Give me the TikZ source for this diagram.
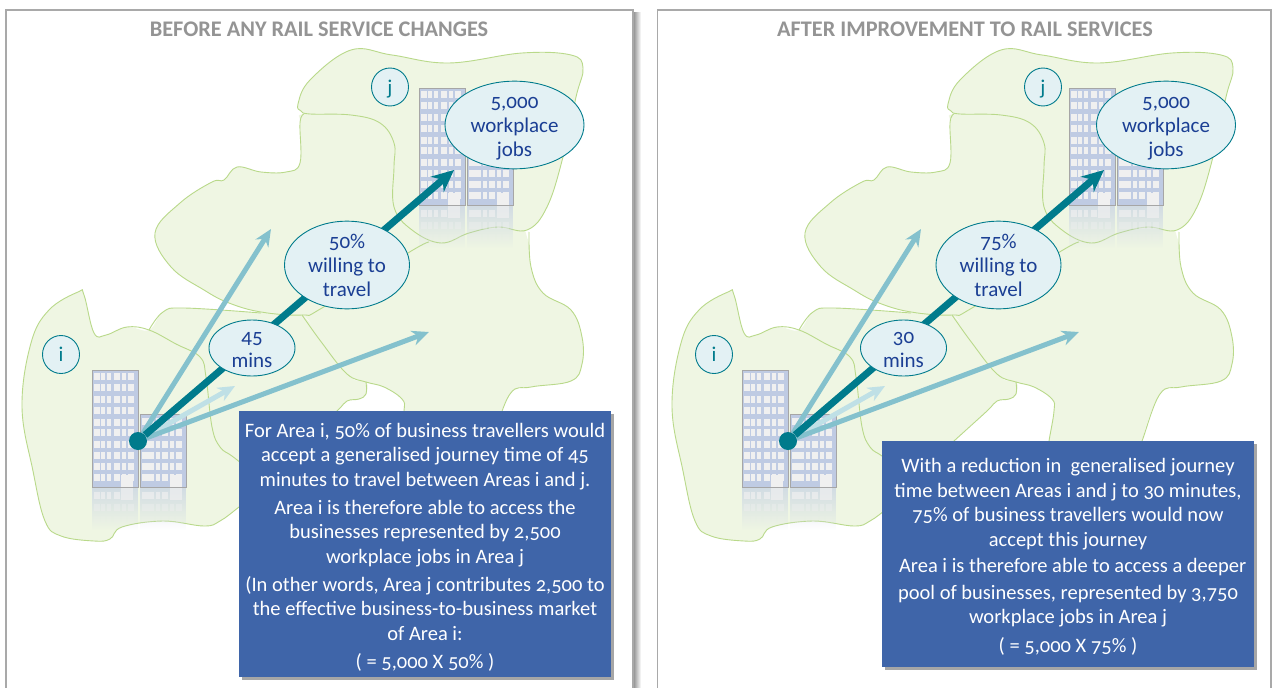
\documentclass[tikz,border=0pt]{standalone}
\usepackage{fontspec}
\usepackage{xcolor}
\setmainfont[Numbers=OldStyle]{Carlito}
\usetikzlibrary{calc,shadows,fadings,shapes.geometric,arrows.meta}

\definecolor{areagreen}{HTML}{EFF6E3}
\definecolor{arealine}{HTML}{B9D98A}
\definecolor{railteal}{HTML}{007B8C}
\definecolor{railmid}{HTML}{84C1CD}
\definecolor{raillight}{HTML}{BFE0E6}
\definecolor{bubblefill}{HTML}{E3F1F4}
\definecolor{bubbletext}{HTML}{1B3F94}
\definecolor{boxblue}{HTML}{3F65A9}
\definecolor{blockblue}{HTML}{BFCBE3}
\definecolor{blockline}{HTML}{A6A6A6}
\definecolor{paneline}{HTML}{A9A9A9}

\tikzset{
  x=1pt,y=-1pt,
  paneframe/.style={draw=paneline,line width=1.4pt,fill=white},
  areaedge/.style={draw=arealine,line width=.9pt},
  bubble/.style={ellipse,draw=railteal,line width=.9pt,fill=bubblefill,inner sep=-5pt,
    text=bubbletext,align=center,font=\fontsize{21}{24}\selectfont},
  areatag/.style={bubble,text=railteal,minimum width=37pt,minimum height=38pt},
  notebox/.style={fill=boxblue,text=white,align=center,inner sep=0pt,
    font=\fontsize{20.5}{24.5}\selectfont,
    drop shadow={shadow xshift=3pt,shadow yshift=-3pt,fill=black,opacity=.35}},
  paneltitle/.style={text=black!42,font=\fontsize{22.3}{26}\selectfont\bfseries},
  window/.style={fill=white!94!black},
  railarrow/.style={-{Stealth[length=17pt,width=15pt]}},
  railmain/.style={-{Stealth[length=22pt,width=20pt]}},
}

\newcommand{\topstrut}{\rule{0pt}{19pt}}
\newcommand{\lowstrut}{\rule[-5pt]{0pt}{5pt}}
\newcommand{\blockwindows}[2]{%
\foreach \wy in {#2} {
  \foreach \wx/\ww in {#1} {
    \fill[window] (\wx,\wy) rectangle ++(\ww,7);
  }
}}
% two office blocks standing on the line y=0, left edge at x=0
\newcommand{\officeblocks}{%
\fill[blockblue,draw=blockline,line width=1pt] (0,-117) rectangle (46,0);
\fill[blockblue,draw=blockline,line width=1pt] (48,-73) rectangle (94,0);
\blockwindows{2/6,9/4,15/4,22/6,30/4,36/6}{-114,-103,-91,-80,-68,-58,-46,-35,-24,-13}
\blockwindows{50/12,64/4,70/6,78/4,84/6}{-69,-58,-46,-35,-24,-13}
\fill[window] (29,-12) rectangle (41,0);
\fill[window] (78,-12) rectangle (90,0);
\fill[blockblue,path fading=south,fill opacity=.6] (0,1) rectangle (46,43);
\fill[blockblue,path fading=south,fill opacity=.6] (48,1) rectangle (94,43);
\begin{scope}[opacity=.7]
\blockwindows{2/6,9/4,15/4,22/6,50/12,64/4,70/6}{5}
\fill[window] (29,1) rectangle (41,13);
\fill[window] (78,1) rectangle (90,13);
\end{scope}
\begin{scope}[opacity=.4]
\blockwindows{2/6,9/4,15/4,22/6,30/4,36/6,50/12,64/4,70/6,78/4,84/6}{17}
\end{scope}
\begin{scope}[opacity=.15]
\blockwindows{2/6,9/4,15/4,22/6,30/4,36/6,50/12,64/4,70/6,78/4,84/6}{29}
\end{scope}
}

\begin{document}
\begin{tikzpicture}
\useasboundingbox (0,0) rectangle (1272,688);
\fill[white] (0,0) rectangle (1272,688);
\shade[left color=black!45,right color=white] (633,12) rectangle (641,688);
\draw[paneframe] (6,700) -- (6,10) -- (633,10) -- (633,700);
\draw[paneframe] (657.5,700) -- (657.5,10) -- (1271,10) -- (1271,700);
\node[paneltitle] (titlebefore) at (319,29) {BEFORE ANY RAIL SERVICE CHANGES};
\node[paneltitle] (titleafter) at (965,29) {AFTER IMPROVEMENT TO RAIL SERVICES};

\foreach \pn/\dx/\nudge/\share/\mins in {a/0/0/50/45,b/650/1.5/75/30} {
\begin{scope}[xshift=\dx pt]
% land
\fill[areagreen] plot[smooth cycle,tension=.65] coordinates {(310,114)(301,111)(298,104)(310,80)(351,50)(392,55)(449,63)(522,53)(571,55)(583,68)(576,97)(563,157)(547,207)(527,230)(498,227)(469,233)(441,243)(412,230)(394,207)(394,143)(380,123)(351,115)};
\fill[areagreen] plot[smooth cycle,tension=.65] coordinates {(304,114)(300,123)(300,163)(286,172)(261,172)(237,167)(224,180)(212,182)(180,203)(155,233)(171,267)(204,290)(229,303)(261,312)(302,315)(322,343)(347,374)(366,382)(384,387)(402,399)(404,411)(399,441)(399,470)(492,470)(492,441)(510,394)(531,387)(571,381)(582,364)(582,337)(571,310)(543,293)(531,267)(528,240)(510,215)(441,215)(405,190)(405,140)(385,118)(351,113)};
\fill[areagreen] plot[smooth cycle,tension=.65] coordinates {(31,343)(49,310)(78,292)(84,295)(94,333)(106,335)(127,327)(149,330)(163,312)(184,308)(261,313)(302,315)(347,374)(366,382)(366,394)(359,399)(347,401)(337,411)(304,441)(260,490)(239,507)(220,521)(204,526)(163,521)(122,527)(110,539)(94,541)(61,536)(45,521)(33,471)(22,407)};
\draw[areaedge] plot[smooth cycle,tension=.65] coordinates {(310,114)(301,111)(298,104)(310,80)(351,50)(392,55)(449,63)(522,53)(571,55)(583,68)(576,97)(563,157)(547,207)(527,230)(498,227)(469,233)(441,243)(412,230)(394,207)(394,167)(394,143)(380,123)(351,115)};
\draw[areaedge] plot[smooth,tension=.65] coordinates {(304,114)(300,123)(300,163)(286,172)(261,172)(237,167)(224,180)(212,182)(180,203)(155,233)(171,267)(204,290)(229,303)(261,312)(302,315)(322,308)(408,253)(429,242)};
\draw[areaedge] plot[smooth,tension=.65] coordinates {(529,232)(531,267)(543,293)(571,310)(582,337)(582,364)(571,381)(531,387)(510,394)(492,441)(488,450)};
\draw[areaedge] plot[smooth,tension=.65] coordinates {(302,315)(322,343)(347,374)(366,382)(384,387)(402,399)(404,411)(399,441)(398,450)};
\draw[areaedge] plot[smooth,tension=.65] coordinates {(366,382)(366,394)(359,399)(347,401)(337,411)(304,441)(295,450)};
\draw[areaedge] plot[smooth,tension=.65] coordinates {(149,330)(163,312)(184,308)(261,313)};
\draw[areaedge] plot[smooth,tension=.65] coordinates {(260,490)(239,507)(220,521)(204,526)(163,521)(122,527)(110,539)(94,541)(61,536)(45,521)(33,471)(22,407)(31,343)(49,310)(78,292)(84,295)(94,333)(106,335)(127,327)(149,330)(176,344)(200,357)(206,377)(212,427)(220,447)(232,456)(250,470)};
% buildings
\begin{scope}[shift={(92,487)}]\officeblocks\end{scope}
\begin{scope}[shift={(419,205)}]\officeblocks\end{scope}
% arrows
\node[circle,fill=railteal,minimum size=18pt,inner sep=0pt] (\pn origin) at (138,441) {};
\coordinate (\pn north) at (271,229);
\coordinate (\pn east) at (429,332);
\coordinate (\pn near) at (235,386);
\coordinate (\pn jobs) at (454,170);
\draw[railarrow,raillight,line width=5pt] (\pn origin) -- (\pn near);
\draw[railarrow,railmid,line width=5pt] (\pn origin) -- (\pn north);
\draw[railarrow,railmid,line width=5pt] (\pn origin) -- (\pn east);
\draw[railmain,railteal,line width=7pt] (\pn origin) -- (\pn jobs);
% labels
\node[areatag] (\pn i) at ({61+2*\nudge},354.5) {\topstrut i\lowstrut};
\node[areatag] (\pn j) at ({390+2*\nudge},87) {\topstrut j\lowstrut};
\node[bubble,minimum width=86pt,minimum height=56pt] (\pn time) at ({252+\nudge},348) {\topstrut\mins\\mins\lowstrut};
\node[bubble,minimum width=125pt,minimum height=86pt] (\pn share) at ({347+\nudge},265) {\topstrut\share\%\\willing to\\travel\lowstrut};
\node[bubble,minimum width=139pt,minimum height=84pt] (\pn work) at ({514.5+\nudge},125) {\topstrut 5,000\\workplace\\jobs\lowstrut};
\end{scope}
}

\node[notebox,minimum width=372pt,minimum height=266pt] (noteleft) at (425,544) {\rule{0pt}{20pt}For Area i, 50\% of business travellers would\\
accept a generalised journey time of 45\\
minutes to travel between Areas i and j.\\[3.5pt]
Area i is therefore able to access the\\
businesses represented by 2,500\\
workplace jobs in Area j\\[3.5pt]
(In other words, Area j contributes 2,500 to\\
the effective business-to-business market\\
of Area i:\\[3.5pt]
( = 5,000 X 50\% )};
\node[notebox,minimum width=372pt,minimum height=226pt] (noteright) at (1068,554) {\rule{0pt}{20pt}With a reduction in \ generalised journey\\
time between Areas i and j to 30 minutes,\\
75\% of business travellers would now\\
accept this journey\\[2pt]
\ \ Area i is therefore able to access a deeper\\[2pt]
pool of businesses, represented by 3,750\\
workplace jobs in Area j\\[4pt]
( = 5,000 X 75\% )};
\end{tikzpicture}
\end{document}
